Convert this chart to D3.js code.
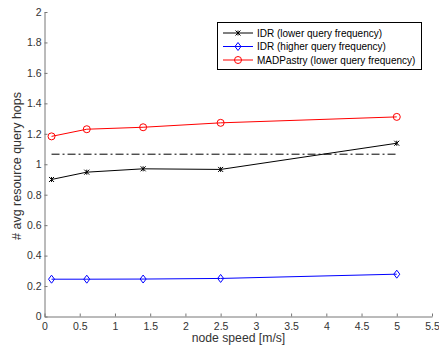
<!DOCTYPE html>
<html>
<head>
<meta charset="utf-8">
<script src="https://cdn.jsdelivr.net/npm/d3@7"></script>
<style>
  body { margin: 0; background: #fff; }
  svg text { font-family: "Liberation Sans", Arial, sans-serif; }
</style>
</head>
<body>
<svg id="chart" width="439" height="346"></svg>
<script>
// node speed values (m/s)
const speeds = [0.1, 0.6, 1.4, 2.5, 5];

// average resource query hops per series
const idrLower = [0.90, 0.948, 0.970, 0.966, 1.138];
const idrHigher = [0.245, 0.245, 0.246, 0.250, 0.278];
const madLower = [1.183, 1.230, 1.243, 1.272, 1.311];

// dash-dot reference level
const refLevel = 1.066;
const refRange = [0.1, 5];

const xTicks = [0, 0.5, 1, 1.5, 2, 2.5, 3, 3.5, 4, 4.5, 5, 5.5];
const yTicks = [0, 0.2, 0.4, 0.6, 0.8, 1, 1.2, 1.4, 1.6, 1.8, 2];

const series = [
    { name: 'IDR (lower query frequency)', values: idrLower, color: '#000', marker: 'x' },
    { name: 'IDR (higher query frequency)', values: idrHigher, color: '#0000ff', marker: 'diamond' },
    { name: 'MADPastry (lower query frequency)', values: madLower, color: '#ff0000', marker: 'circle' }
];

const margin = { top: 12, right: 7, bottom: 29.5, left: 44.5 };
const W = 439, H = 346;

const svg = d3.select('#chart');
const x = d3.scaleLinear().domain([0, 5.5]).range([margin.left, W - margin.right]);
const y = d3.scaleLinear().domain([0, 2]).range([H - margin.bottom, margin.top]);

const axisColor = '#777';
const textColor = '#333';

// axes (ticks inside, MATLAB style)
const xAxis = svg.append('g')
    .attr('transform', `translate(0,${H - margin.bottom})`)
    .call(d3.axisBottom(x).tickValues(xTicks).tickSize(-3).tickPadding(6).tickSizeOuter(0)
        .tickFormat(d3.format('')));
const yAxis = svg.append('g')
    .attr('transform', `translate(${margin.left},0)`)
    .call(d3.axisLeft(y).tickValues(yTicks).tickSize(-3).tickPadding(6).tickSizeOuter(0)
        .tickFormat(d3.format('')));

[xAxis, yAxis].forEach(g => {
    g.select('.domain').attr('stroke', axisColor);
    g.selectAll('.tick line').attr('stroke', axisColor);
    g.selectAll('.tick text').attr('fill', textColor).attr('font-size', 10.5);
});
yAxis.selectAll('.tick text').attr('dx', 3);

// axis labels
svg.append('text')
    .attr('x', 238.5).attr('y', 342)
    .attr('text-anchor', 'middle')
    .attr('font-size', 12.2).attr('fill', textColor)
    .text('node speed [m/s]');
svg.append('text')
    .attr('transform', `translate(21,166) rotate(-90)`)
    .attr('text-anchor', 'middle')
    .attr('font-size', 12.5).attr('fill', textColor)
    .text('# avg resource query hops');

// dash-dot line
svg.append('line')
    .attr('x1', x(refRange[0])).attr('x2', x(refRange[1]))
    .attr('y1', y(refLevel)).attr('y2', y(refLevel))
    .attr('stroke', '#000').attr('stroke-width', 1)
    .attr('stroke-dasharray', '8,3,2,3');

const line = d3.line().x((d, i) => x(speeds[i])).y(d => y(d));

function drawMarker(g, type, cx, cy, color) {
    if (type === 'x') {
        const s = 2.5;
        g.append('path')
            .attr('d', `M${cx - s},${cy - s}L${cx + s},${cy + s}M${cx - s},${cy + s}L${cx + s},${cy - s}M${cx},${cy - s}L${cx},${cy + s}`)
            .attr('stroke', color).attr('stroke-width', 1).attr('fill', 'none');
    } else if (type === 'diamond') {
        const s = 4;
        g.append('path')
            .attr('d', `M${cx},${cy - s}L${cx + s * 0.75},${cy}L${cx},${cy + s}L${cx - s * 0.75},${cy}Z`)
            .attr('stroke', color).attr('stroke-width', 1).attr('fill', 'none');
    } else {
        g.append('circle')
            .attr('cx', cx).attr('cy', cy).attr('r', 3.5)
            .attr('stroke', color).attr('stroke-width', 1).attr('fill', 'none');
    }
}

series.forEach(s => {
    const g = svg.append('g');
    g.append('path')
        .attr('d', line(s.values))
        .attr('fill', 'none').attr('stroke', s.color).attr('stroke-width', 1);
    s.values.forEach((v, i) => drawMarker(g, s.marker, x(speeds[i]), y(v), s.color));
});

// legend
const legend = svg.append('g');
legend.append('rect')
    .attr('x', 217.5).attr('y', 22.5).attr('width', 204).attr('height', 47)
    .attr('fill', '#fff').attr('stroke', '#000').attr('stroke-width', 1);
series.forEach((s, i) => {
    const ly = 33 + i * 13.5;
    legend.append('line')
        .attr('x1', 223).attr('x2', 253).attr('y1', ly).attr('y2', ly)
        .attr('stroke', s.color).attr('stroke-width', 1);
    drawMarker(legend, s.marker, 238, ly, s.color);
    legend.append('text')
        .attr('x', 257).attr('y', ly).attr('dy', '0.35em')
        .attr('font-size', 10).attr('fill', '#000')
        .text(s.name);
});
</script>
</body>
</html>
